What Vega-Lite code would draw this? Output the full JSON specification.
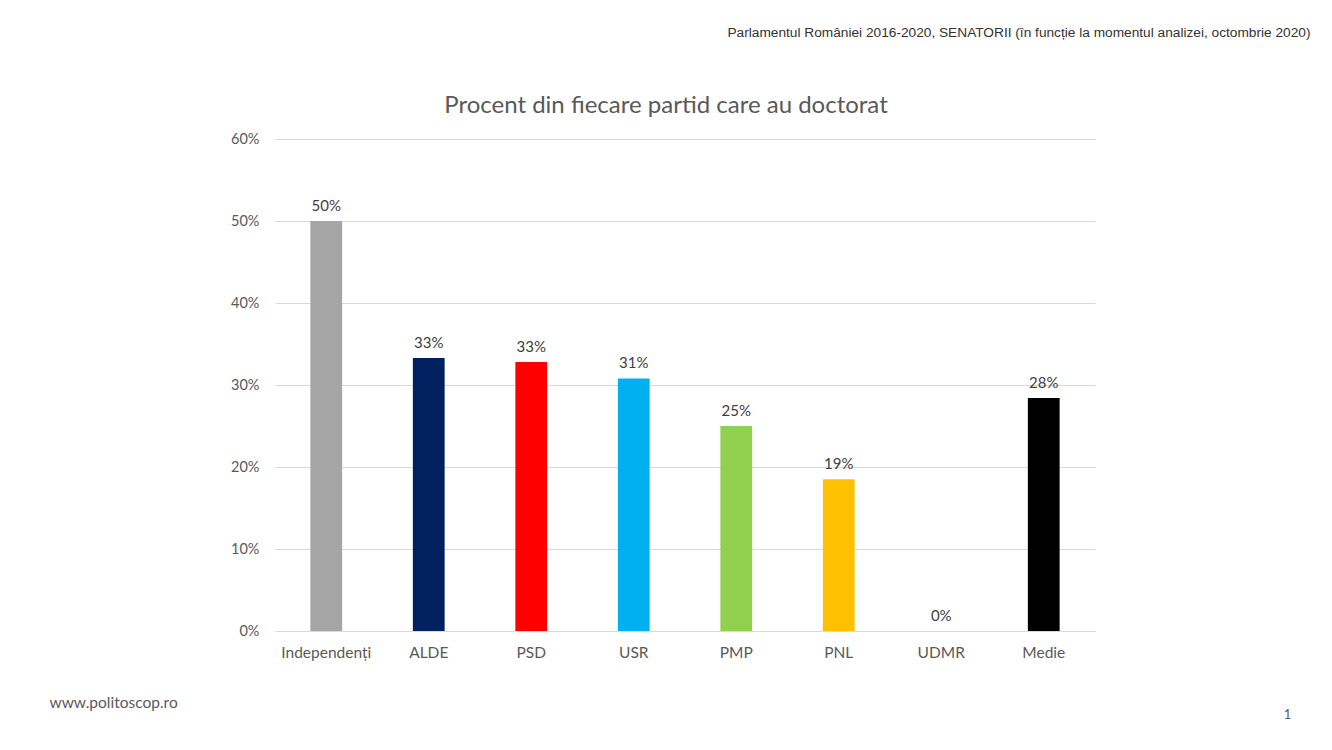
{
  "$schema": "https://vega.github.io/schema/vega-lite/v6.json",
  "autosize": {"type": "none"},
  "width": 820,
  "height": 492,
  "padding": {"left": 275, "top": 139, "right": 237, "bottom": 119},
  "background": "white",
  "title": {
    "text": "Procent din fiecare partid care au doctorat",
    "font": "Lato",
    "fontSize": 24,
    "fontWeight": "normal",
    "color": "#595959",
    "anchor": "middle",
    "dx": -19,
    "dy": 117,
    "offset": 24
  },
  "data": {
    "values": [
      {"partid": "Independenți", "procent": 50.0, "eticheta": "50%", "culoare": "Independenți"},
      {"partid": "ALDE", "procent": 33.3, "eticheta": "33%", "culoare": "ALDE"},
      {"partid": "PSD", "procent": 32.8, "eticheta": "33%", "culoare": "PSD"},
      {"partid": "USR", "procent": 30.8, "eticheta": "31%", "culoare": "USR"},
      {"partid": "PMP", "procent": 25.0, "eticheta": "25%", "culoare": "PMP"},
      {"partid": "PNL", "procent": 18.5, "eticheta": "19%", "culoare": "PNL"},
      {"partid": "UDMR", "procent": 0, "eticheta": "0%", "culoare": "UDMR"},
      {"partid": "Medie", "procent": 28.4, "eticheta": "28%", "culoare": "Medie"}
    ]
  },
  "encoding": {
    "x": {
      "field": "partid",
      "type": "nominal",
      "sort": null,
      "scale": {"paddingInner": 0.69, "paddingOuter": 0.345},
      "axis": {
        "title": "Parlamentul României 2016-2020, SENATORII (în funcție la momentul analizei, octombrie 2020)",
        "titleFont": "Liberation Sans",
        "titleFontSize": 13.7,
        "titleFontWeight": "normal",
        "titleColor": "#333333",
        "titleAlign": "right",
        "titleAnchor": null,
        "titleX": 1035,
        "titleY": -606,
        "labelAngle": 0,
        "labelFont": "Lato",
        "labelFontSize": 15.5,
        "labelColor": "#595959",
        "labelPadding": 14,
        "ticks": false,
        "domainColor": "#d9d9d9"
      }
    }
  },
  "layer": [
    {
      "mark": {"type": "bar"},
      "encoding": {
        "y": {
          "field": "procent",
          "type": "quantitative",
          "scale": {"domain": [0, 60]},
          "axis": {
            "values": [0, 10, 20, 30, 40, 50, 60],
            "labelExpr": "datum.value + '%'",
            "labelFont": "Lato",
            "labelFontSize": 14.5,
            "labelColor": "#595959",
            "labelPadding": 16,
            "ticks": false,
            "domain": false,
            "gridColor": "#d9d9d9",
            "title": "www.politoscop.ro",
            "titleFont": "Lato",
            "titleFontSize": 15.5,
            "titleFontWeight": "normal",
            "titleColor": "#595959",
            "titleAngle": 0,
            "titleAlign": "left",
            "titleAnchor": null,
            "titleX": -226,
            "titleY": 571
          }
        },
        "color": {
          "field": "culoare",
          "type": "nominal",
          "scale": {
            "domain": ["Independenți", "ALDE", "PSD", "USR", "PMP", "PNL", "UDMR", "Medie"],
            "range": ["#A5A5A5", "#002060", "#FF0000", "#00B0F0", "#92D050", "#FFC000", "#7F7F7F", "#000000"]
          },
          "legend": null
        }
      }
    },
    {
      "mark": {"type": "text", "baseline": "bottom", "dy": -7, "font": "Lato", "fontSize": 15, "color": "#404040"},
      "encoding": {
        "y": {
          "field": "procent",
          "type": "quantitative",
          "scale": {"domain": [0, 60]},
          "axis": {
            "orient": "right",
            "labels": false,
            "ticks": false,
            "domain": false,
            "grid": false,
            "title": "1",
            "titleFont": "Lato",
            "titleFontSize": 13,
            "titleFontWeight": "normal",
            "titleColor": "#595959",
            "titleAngle": 0,
            "titleAnchor": null,
            "titleX": 192,
            "titleY": 582
          }
        },
        "text": {"field": "eticheta"}
      }
    }
  ],
  "resolve": {"scale": {"y": "independent"}},
  "config": {"view": {"stroke": null}}
}
